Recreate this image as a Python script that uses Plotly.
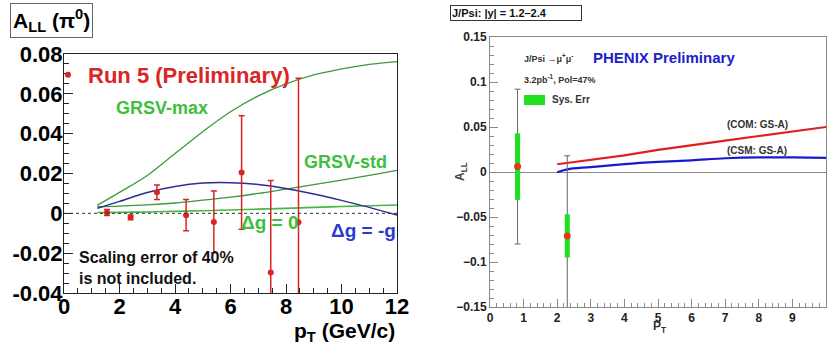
import plotly.graph_objects as go

W, H = 830, 347

# ---------------- Left panel: pi0 A_LL (Run 5) ----------------
pt_pi0 = [1.55, 2.4, 3.35, 4.4, 5.4, 6.4, 7.45, 8.45]
all_pi0 = [0.0004, -0.002, 0.0106, -0.0009, -0.0043, 0.0205, -0.0297, -0.0045]
err_pi0 = [0.0015, 0.0012, 0.0036, 0.0078, 0.0155, 0.0285, 0.0462, 0.0723]

pt_theory = [1.2, 2, 3, 4, 5, 6, 7, 8, 9, 10, 11, 12]
grsv_max = [0.004, 0.0105, 0.019, 0.030, 0.041, 0.051, 0.059, 0.065, 0.0695, 0.0725, 0.0748, 0.0762]
grsv_std = [0.0033, 0.0036, 0.0042, 0.0052, 0.0066, 0.0081, 0.0100, 0.0122, 0.0144, 0.0167, 0.0191, 0.0216]
dg_zero = [0.0004, 0.0005, 0.0007, 0.0010, 0.0013, 0.0017, 0.0021, 0.0025, 0.0030, 0.0034, 0.0038, 0.0042]
dg_minus_g = [0.0025, 0.006, 0.0105, 0.0135, 0.0152, 0.0154, 0.0145, 0.0125, 0.0097, 0.0065, 0.003, -0.0009]

left_xticks = [0, 2, 4, 6, 8, 10, 12]
left_yticks = [-0.04, -0.02, 0, 0.02, 0.04, 0.06, 0.08]
left_yticktext = ["-0.04", "-0.02", "0", "0.02", "0.04", "0.06", "0.08"]

# ---------------- Right panel: J/Psi A_LL ----------------
pt_jpsi = [0.82, 2.3]
all_jpsi = [0.006, -0.071]
stat_jpsi = [0.086, 0.089]
sys_jpsi = [0.037, 0.024]

pt_com = [2, 3, 4, 5, 6, 7, 8, 9, 10]
com_gsa = [0.0086, 0.0135, 0.0185, 0.0245, 0.030, 0.0348, 0.040, 0.045, 0.050]
pt_csm = [2, 2.3, 3, 4, 5, 6, 7, 8, 9, 10]
csm_gsa = [-0.0003, 0.003, 0.0055, 0.0088, 0.0112, 0.013, 0.0153, 0.0163, 0.0162, 0.0158]

right_xticks = [0, 1, 2, 3, 4, 5, 6, 7, 8, 9, 10]
right_yticks = [-0.15, -0.1, -0.05, 0, 0.05, 0.1, 0.15]
right_yticktext = ["\u22120.15", "\u22120.1", "\u22120.05", "0", "0.05", "0.1", "0.15"]

FONT = "Liberation Sans, Arial, Helvetica, sans-serif"
GREEN_LINE = "#3a9a3a"
GREEN_TEXT = "#3cbf3c"
RED = "#d92525"
BLUE_LINE = "#2c2c96"
BLUE_TEXT = "#2b3bd0"


def px(x):
    return x / W


def py(y):
    return (H - y) / H


fig = go.Figure()

# left theory curves
fig.add_trace(go.Scatter(x=pt_theory, y=grsv_max, mode="lines", line=dict(color=GREEN_LINE, width=1.3, shape="spline"),
                         xaxis="x", yaxis="y", showlegend=False, hoverinfo="skip"))
fig.add_trace(go.Scatter(x=pt_theory, y=grsv_std, mode="lines", line=dict(color=GREEN_LINE, width=1.3, shape="spline"),
                         xaxis="x", yaxis="y", showlegend=False, hoverinfo="skip"))
fig.add_trace(go.Scatter(x=pt_theory, y=dg_zero, mode="lines", line=dict(color="#45b845", width=1.6, shape="spline"),
                         xaxis="x", yaxis="y", showlegend=False, hoverinfo="skip"))
fig.add_trace(go.Scatter(x=pt_theory, y=dg_minus_g, mode="lines", line=dict(color=BLUE_LINE, width=1.5, shape="spline"),
                         xaxis="x", yaxis="y", showlegend=False, hoverinfo="skip"))

# left data
fig.add_trace(go.Scatter(x=pt_pi0, y=all_pi0, mode="markers", name="Run 5 (Preliminary)",
                         marker=dict(color=RED, size=6),
                         error_y=dict(type="data", array=err_pi0, color=RED, thickness=1.5, width=3),
                         xaxis="x", yaxis="y", showlegend=True))

# right model curves
fig.add_trace(go.Scatter(x=pt_com, y=com_gsa, mode="lines", line=dict(color="#e02020", width=2.2),
                         xaxis="x2", yaxis="y2", showlegend=False, hoverinfo="skip"))
fig.add_trace(go.Scatter(x=pt_csm, y=csm_gsa, mode="lines", line=dict(color="#1a1acc", width=2.2, shape="spline"),
                         xaxis="x2", yaxis="y2", showlegend=False, hoverinfo="skip"))

# right stat errors
fig.add_trace(go.Scatter(x=pt_jpsi, y=all_jpsi, mode="markers", marker=dict(size=1, color="rgba(0,0,0,0)"),
                         error_y=dict(type="data", array=stat_jpsi, color="#666666", thickness=1, width=3),
                         xaxis="x2", yaxis="y2", showlegend=False))
# right sys errors
fig.add_trace(go.Scatter(x=pt_jpsi, y=all_jpsi, mode="markers", marker=dict(size=7, color="#e03a1a"),
                         error_y=dict(type="data", array=sys_jpsi, color="#1ee01e", thickness=5, width=0),
                         xaxis="x2", yaxis="y2", showlegend=False))

left_axis_common = dict(showgrid=False, zeroline=False, showline=True, mirror=True, linecolor="#222222", linewidth=1,
                        ticks="inside", ticklen=9, tickcolor="#222222", automargin=False,
                        tickfont=dict(family=FONT, size=22, color="black", weight="bold"))
right_axis_common = dict(showgrid=False, showline=True, mirror=True, linecolor="#8a8a8a", linewidth=1,
                         ticks="inside", ticklen=8, tickcolor="#8a8a8a", automargin=False,
                         tickfont=dict(family=FONT, size=12, color="#222222", weight="bold"))

fig.update_layout(
    width=W, height=H, margin=dict(l=0, r=0, t=0, b=0, autoexpand=False),
    paper_bgcolor="white", plot_bgcolor="white",
    font=dict(family=FONT),
    xaxis=dict(domain=[px(64), px(397)], range=[0, 12], anchor="y", tickvals=left_xticks, ticklabelstandoff=-6,
               minor=dict(ticks="inside", dtick=0.5, ticklen=5, tickcolor="#222222"), **left_axis_common),
    yaxis=dict(domain=[py(293), py(54)], range=[-0.04, 0.08], anchor="x", tickvals=left_yticks,
               ticktext=left_yticktext, ticklabelstandoff=-4,
               minor=dict(ticks="inside", dtick=0.005, ticklen=5, tickcolor="#222222"), **left_axis_common),
    xaxis2=dict(domain=[px(490), px(826)], range=[0, 10], anchor="y2", tickvals=right_xticks, zeroline=False,
                minor=dict(ticks="inside", dtick=0.2, ticklen=4, tickcolor="#8a8a8a"), **right_axis_common),
    yaxis2=dict(domain=[py(307), py(37)], range=[-0.15, 0.15], anchor="x2", tickvals=right_yticks,
                ticktext=right_yticktext, zeroline=True, zerolinecolor="#8a8a8a", zerolinewidth=1,
                minor=dict(ticks="inside", dtick=0.01, ticklen=4, tickcolor="#8a8a8a"), **right_axis_common),
    legend=dict(x=px(48), y=py(54), xanchor="left", yanchor="top", bgcolor="rgba(0,0,0,0)",
                font=dict(family=FONT, size=22, color=RED, weight="bold")),
    showlegend=True,
)

# dotted zero line (left)
fig.add_shape(type="line", xref="x domain", yref="y", x0=0, x1=1, y0=0, y1=0,
              line=dict(color="#333333", width=1, dash="dot"))

# Sys. Err legend swatch (right)
fig.add_shape(type="rect", xref="paper", yref="paper", x0=px(524), x1=px(545), y0=py(105), y1=py(95),
              fillcolor="#1ee01e", line=dict(width=0))


def ann(text, x, y, size, color="black", xanchor="left", yanchor="middle", bold=True, **kw):
    fig.add_annotation(text=text, x=px(x), y=py(y), xref="paper", yref="paper", showarrow=False,
                       xanchor=xanchor, yanchor=yanchor,
                       font=dict(family=FONT, size=size, color=color, weight="bold" if bold else "normal"), **kw)


# left texts
ann("A<sub>LL</sub> (\u03c0<sup>0</sup>)", 10, 20, 21, bordercolor="#666666", borderwidth=1, borderpad=2,
    bgcolor="white")
ann("GRSV-max", 114, 108, 18, GREEN_TEXT)
ann("GRSV-std", 302, 162, 18, GREEN_TEXT)
ann("\u0394g = 0", 239, 223, 19, GREEN_TEXT)
ann("\u0394g = -g", 329, 230, 19, BLUE_TEXT)
ann("Scaling error of 40%<br>is not included.", 77, 268, 16, "#111111", align="left")
ann("p<sub>T</sub> (GeV/c)", 397, 347, 21, "black", xanchor="right", yanchor="bottom")

# right texts
ann("J/Psi: |y| = 1.2\u20132.4", 450, 13, 11, "#111111", bordercolor="#333333", borderwidth=1, borderpad=1,
    bgcolor="white", width=128, align="left")
ann("J/Psi \u2192\u03bc<sup>+</sup>\u03bc<sup>-</sup>", 522, 58, 9, "#333333")
ann("PHENIX Preliminary", 591, 57, 15, "#2020c8")
ann("3.2pb<sup>-1</sup>, Pol=47%", 522, 79, 9, "#333333")
ann("Sys. Err", 550, 100, 10, "#333333")
ann("(COM: GS-A)", 725, 124, 10, "#333333")
ann("(CSM: GS-A)", 725, 150, 10, "#333333")
ann("A<sub>LL</sub>", 461, 172, 12, "#444444", xanchor="center", textangle=-90)
ann("P<sub>T</sub>", 660, 327, 12, "#333333", xanchor="center")

fig.write_html("out.html", config={"displayModeBar": False},
               post_script="document.body.style.margin='0';document.body.style.padding='0';")
